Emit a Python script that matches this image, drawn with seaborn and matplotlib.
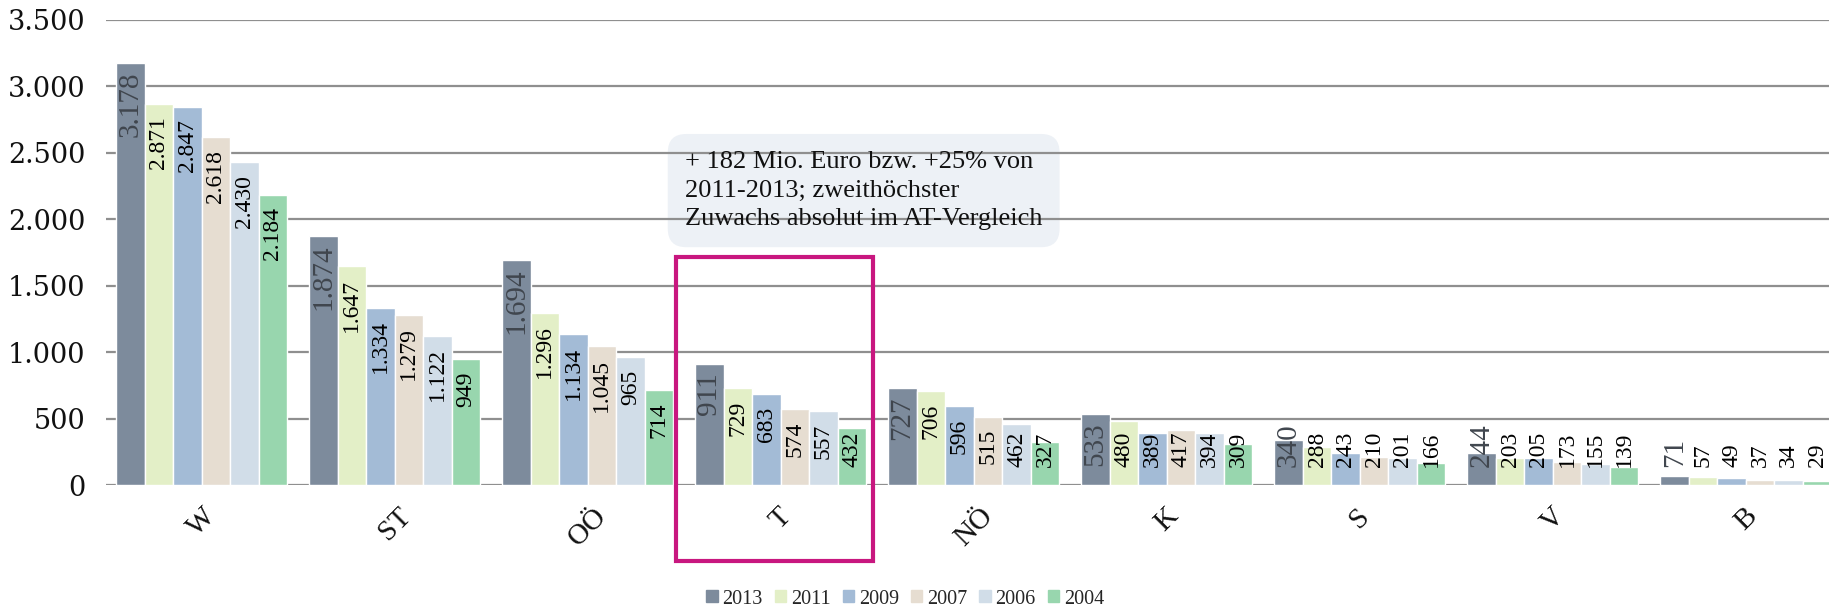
import matplotlib
matplotlib.use("Agg")
import numpy as np
import pandas as pd
import matplotlib.pyplot as plt
import matplotlib.transforms as mtrans
import seaborn as sns
from matplotlib.patches import Rectangle
from matplotlib.ticker import FuncFormatter, MultipleLocator

regions = ["W", "ST", "OÖ", "T", "NÖ", "K", "S", "V", "B"]
years = ["2013", "2011", "2009", "2007", "2006", "2004"]
v2013 = [3178, 1874, 1694, 911, 727, 533, 340, 244, 71]
v2011 = [2871, 1647, 1296, 729, 706, 480, 288, 203, 57]
v2009 = [2847, 1334, 1134, 683, 596, 389, 243, 205, 49]
v2007 = [2618, 1279, 1045, 574, 515, 417, 210, 173, 37]
v2006 = [2430, 1122, 965, 557, 462, 394, 201, 155, 34]
v2004 = [2184, 949, 714, 432, 327, 309, 166, 139, 29]
series = [v2013, v2011, v2009, v2007, v2006, v2004]
colors = ["#7d8b9c", "#e3efc7", "#a3bbd6", "#e6ddd1", "#d1dde8", "#98d6ae"]
note = "+ 182 Mio. Euro bzw. +25% von\n2011-2013; zweithöchster\nZuwachs absolut im AT-Vergleich"

df = pd.DataFrame({
    "Region": regions * len(years),
    "Jahr": np.repeat(years, len(regions)),
    "Wert": sum(series, []),
})

sns.set_style("white")
plt.rcParams["font.family"] = ["Liberation Serif", "DejaVu Serif"]

def fmt(v):
    return f"{int(v):,}".replace(",", ".")

fig = plt.figure(figsize=(18.29, 6.10), dpi=100)
ax = fig.add_axes([106 / 1829, 1 - 485 / 610, 1 - 106 / 1829, 465 / 610])

sns.barplot(data=df, x="Region", y="Wert", hue="Jahr", palette=colors,
            width=0.886, saturation=1, errorbar=None, legend=False, ax=ax)

ax.set_ylim(0, 3500)
ax.set_xlim(-0.495, 8.43)
ax.yaxis.set_major_locator(MultipleLocator(500))
ax.yaxis.set_major_formatter(FuncFormatter(lambda v, p: fmt(v)))
ax.grid(axis="y", color="#8f8f8f", lw=1.6)
ax.set_axisbelow(True)
sns.despine(ax=ax, left=True, bottom=True)
ax.set_xlabel("")
ax.set_ylabel("")
ax.tick_params(axis="y", length=0, pad=15)
ax.tick_params(axis="x", length=0, pad=13)
for lab in ax.get_yticklabels():
    lab.set_family("DejaVu Serif")
    lab.set_fontsize(19.5)
    lab.set_color("#111111")
for lab in ax.get_xticklabels():
    lab.set_rotation(45)
    lab.set_ha("center")
    lab.set_fontsize(21)
    lab.set_color("#111111")

# value labels inside the bars, lifted above the baseline for small bars
fig.canvas.draw()
r = fig.canvas.get_renderer()
base_px = ax.transData.transform((0, 0))[1] + 18
for i, cont in enumerate(ax.containers):
    big = i == 0
    for bar, v in zip(cont, series[i]):
        x = bar.get_x() + bar.get_width() / 2
        t = ax.annotate(fmt(v), (x, v), xytext=(0, -6 if big else -9),
                        textcoords="offset points", rotation=90,
                        ha="center", va="top",
                        fontsize=21 if big else 17,
                        color="#40464e" if big else "black", zorder=5)
        bb = t.get_window_extent(r)
        if bb.y0 < base_px:
            t.xy = (x, 0)
            t.set_va("bottom")
            t.xyann = (0, 18 * 72 / 100)

# callout: box below the gridlines, text above them
box_kw = dict(transform=ax.transAxes, ha="left", va="top", fontsize=19,
              linespacing=1.38)
ax.text(0.336, 0.718, note, color="none", zorder=0.4,
        bbox=dict(boxstyle="round,pad=0.65,rounding_size=0.7",
                  fc="#edf1f6", ec="none"), **box_kw)
ax.text(0.336, 0.718, note, color="#111111", zorder=0.6, **box_kw)

trans = mtrans.blended_transform_factory(ax.transData, ax.transAxes)
ax.add_patch(Rectangle((2.46, -0.163), 1.02, 0.653, transform=trans,
                       clip_on=False, fill=False, ec="#c8177f", lw=3, zorder=6))

handles = [Rectangle((0, 0), 1, 1, color=c) for c in colors]
fig.legend(handles, years, loc="center", bbox_to_anchor=(0.495, 0.018),
           ncol=6, frameon=False, fontsize=14.5, handlelength=0.55,
           handleheight=0.55, handletextpad=0.25, columnspacing=0.6)

fig.savefig("out.png", dpi=100)
